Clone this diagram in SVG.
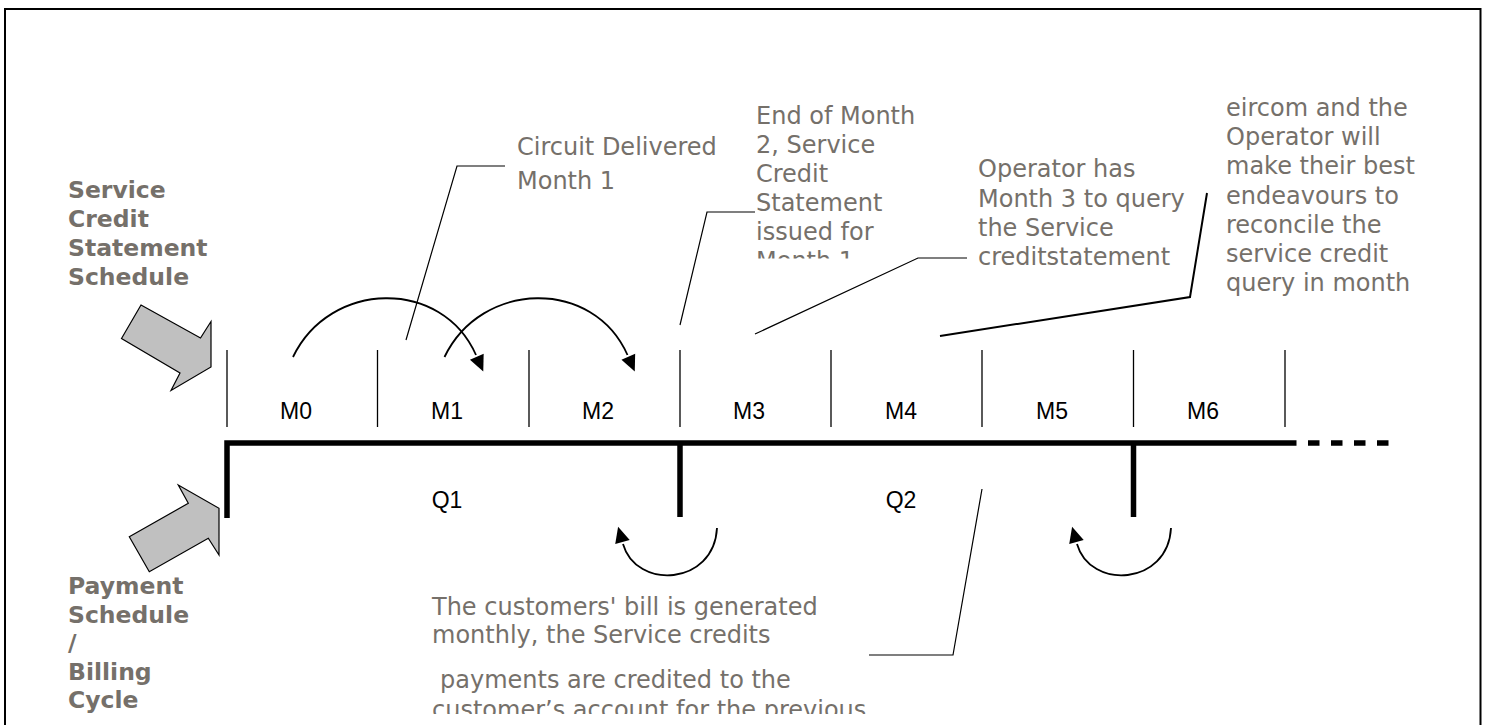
<svg xmlns="http://www.w3.org/2000/svg" width="1487" height="725" viewBox="0 0 1487 725">
  <style>
    .note{font-family:"DejaVu Sans",Verdana,sans-serif;font-size:24px;fill:#75706a}
    .title{font-family:"DejaVu Sans",Verdana,sans-serif;font-size:23.5px;font-weight:bold;fill:#75706a}
    .period{font-family:"Liberation Sans",Arial,sans-serif;font-size:23px;fill:#000;text-anchor:middle}
    .tick{stroke:#000;stroke-width:1.3;fill:none}
    .bar{stroke:#000;stroke-width:5.5;fill:none}
    .lead{stroke:#000;stroke-width:1.2;fill:none}
    .lead-heavy{stroke:#000;stroke-width:2;fill:none}
    .cycle{stroke:#000;stroke-width:1.8;fill:none;marker-end:url(#head)}
    .block{fill:#c0c0c0;stroke:#000;stroke-width:1.2;stroke-linejoin:miter}
  </style>
  <defs>
    <marker id="head" markerUnits="userSpaceOnUse" markerWidth="24" markerHeight="18" viewBox="0 -9 24 18" refX="0" refY="0" orient="auto">
      <path d="M2,-7.5 L18,0 L2,7.5 z" fill="#000"/>
    </marker>
    <clipPath id="clip-statement"><rect x="700" y="90" width="250" height="168.5"/></clipPath>
    <clipPath id="clip-billing"><rect x="400" y="590" width="500" height="124"/></clipPath>
  </defs>

  <!-- outer frame -->
  <rect x="5" y="9" width="1475.5" height="740" fill="#fff" stroke="#000" stroke-width="2"/>

  <!-- schedule titles -->
  <g id="service-credit-title">
    <text class="title" x="68" y="198">Service</text>
    <text class="title" x="68" y="227">Credit</text>
    <text class="title" x="68" y="256">Statement</text>
    <text class="title" x="68" y="285">Schedule</text>
  </g>
  <g id="payment-title">
    <text class="title" x="68" y="594">Payment</text>
    <text class="title" x="68" y="622.6">Schedule</text>
    <text class="title" x="68" y="651.2">/</text>
    <text class="title" x="68" y="679.8">Billing</text>
    <text class="title" x="68" y="708.4">Cycle</text>
  </g>

  <!-- block arrows pointing at the two schedules -->
  <g id="service-credit-arrow">
    <polygon class="block" points="141,305 200.5,338 211,321.5 211,367 171,390.5 180,373 121.5,338.5"/>
  </g>
  <g id="payment-arrow">
    <polygon class="block" points="129.3,536.7 188.3,503.3 178.3,485 219,508.3 219,555 208.3,538.3 149.3,571.7"/>
  </g>

  <!-- monthly timeline -->
  <g id="months">
    <line class="tick" x1="227" y1="350" x2="227" y2="427"/>
    <line class="tick" x1="377.5" y1="350" x2="377.5" y2="427"/>
    <line class="tick" x1="529" y1="350" x2="529" y2="427"/>
    <line class="tick" x1="680" y1="350" x2="680" y2="427"/>
    <line class="tick" x1="831" y1="350" x2="831" y2="427"/>
    <line class="tick" x1="982" y1="350" x2="982" y2="427"/>
    <line class="tick" x1="1133.5" y1="350" x2="1133.5" y2="427"/>
    <line class="tick" x1="1285" y1="350" x2="1285" y2="427"/>
    <text class="period" x="296" y="419">M0</text>
    <text class="period" x="447" y="419">M1</text>
    <text class="period" x="598" y="419">M2</text>
    <text class="period" x="749" y="419">M3</text>
    <text class="period" x="901" y="419">M4</text>
    <text class="period" x="1052" y="419">M5</text>
    <text class="period" x="1203" y="419">M6</text>
  </g>

  <!-- quarterly billing timeline -->
  <g id="quarters">
    <path class="bar" d="M227,518 V443 H1285"/>
    <path class="bar" d="M1285,443 H1389" stroke-dasharray="11.5 11.5"/>
    <line class="bar" x1="680" y1="443" x2="680" y2="517"/>
    <line class="bar" x1="1133.5" y1="443" x2="1133.5" y2="517"/>
    <text class="period" x="447" y="508">Q1</text>
    <text class="period" x="901" y="508">Q2</text>
  </g>

  <!-- notes -->
  <g id="note-delivered">
    <text class="note" x="517" y="155">Circuit Delivered</text>
    <text class="note" x="517" y="189">Month 1</text>
  </g>
  <g id="note-statement" clip-path="url(#clip-statement)">
    <text class="note" x="756" y="124">End of Month</text>
    <text class="note" x="756" y="153">2, Service</text>
    <text class="note" x="756" y="182">Credit</text>
    <text class="note" x="756" y="210.5">Statement</text>
    <text class="note" x="756" y="239.5">issued for</text>
    <text class="note" x="756" y="268.5">Month 1</text>
  </g>
  <g id="note-query">
    <text class="note" x="978" y="177">Operator has</text>
    <text class="note" x="978" y="206.5">Month 3 to query</text>
    <text class="note" x="978" y="236">the Service</text>
    <text class="note" x="978" y="265">creditstatement</text>
  </g>
  <g id="note-reconcile">
    <text class="note" x="1226" y="116">eircom and the</text>
    <text class="note" x="1226" y="145.2">Operator will</text>
    <text class="note" x="1226" y="174.4">make their best</text>
    <text class="note" x="1226" y="203.6">endeavours to</text>
    <text class="note" x="1226" y="232.8">reconcile the</text>
    <text class="note" x="1226" y="262">service credit</text>
    <text class="note" x="1226" y="291.2">query in month</text>
  </g>
  <g id="note-billing" clip-path="url(#clip-billing)">
    <text class="note" x="432" y="615">The customers' bill is generated</text>
    <text class="note" x="432" y="643">monthly, the Service credits</text>
    <text class="note" x="440" y="688">payments are credited to the</text>
    <text class="note" x="432" y="717.5">customer’s account for the previous</text>
  </g>

  <!-- connectors: callout leaders and cycle arrows -->
  <g id="connectors">
    <polyline class="lead" points="406,340 457,166 505,166"/>
    <polyline class="lead" points="680,325 707,212 755,212"/>
    <polyline class="lead" points="755,334 918,258 967,258"/>
    <polyline class="lead-heavy" points="940,336 1190,297 1207,193"/>
    <polyline class="lead" points="982,489 953,655 869,655"/>
    <path class="cycle" d="M293,357 C330,280 442,278 476,355"/>
    <path class="cycle" d="M444.5,357 C481.5,280 593.5,278 627.5,355"/>
    <path class="cycle" d="M717,528 C714,586 636,590 623,544"/>
    <path class="cycle" d="M1171,528 C1168,586 1090,590 1077,544"/>
  </g>
</svg>
